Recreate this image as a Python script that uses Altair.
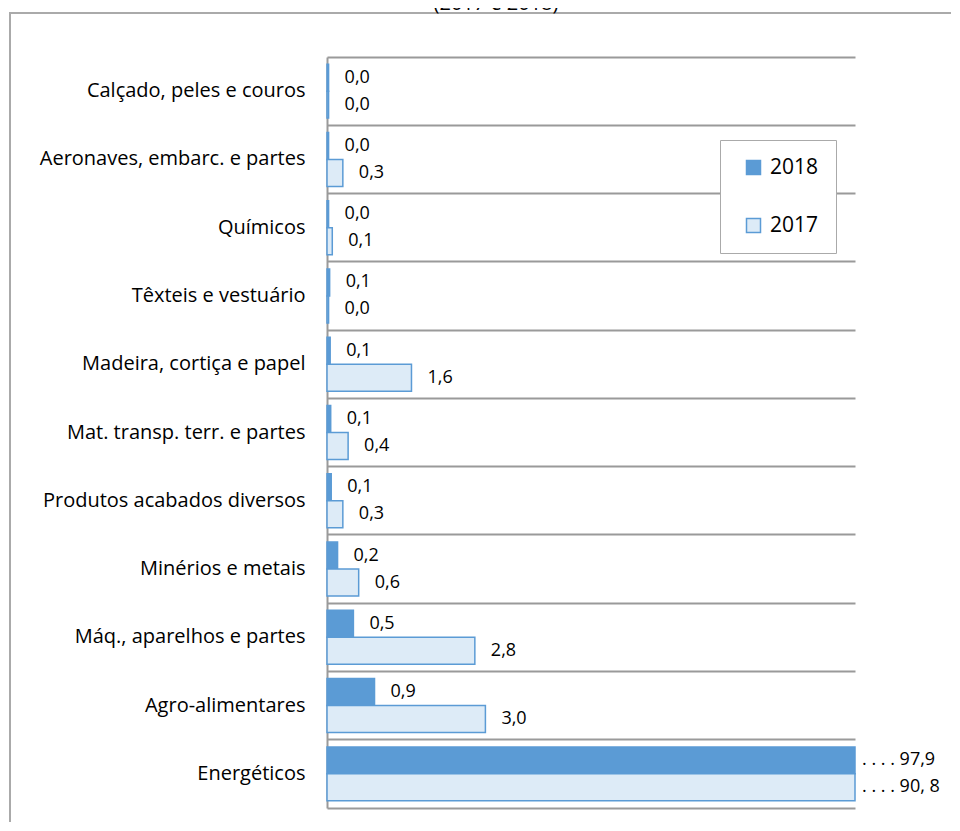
import altair as alt
import pandas as pd

categories = [
    "Calçado, peles e couros",
    "Aeronaves, embarc. e partes",
    "Químicos",
    "Têxteis e vestuário",
    "Madeira, cortiça e papel",
    "Mat. transp. terr. e partes",
    "Produtos acabados diversos",
    "Minérios e metais",
    "Máq., aparelhos e partes",
    "Agro-alimentares",
    "Energéticos",
]
years = ["2018", "2017"]
v2018 = [0.03, 0.03, 0.03, 0.05, 0.06, 0.07, 0.08, 0.2, 0.5, 0.9, 97.9]
v2017 = [0.03, 0.3, 0.1, 0.03, 1.6, 0.4, 0.3, 0.6, 2.8, 3.0, 90.8]
l2018 = ["0,0", "0,0", "0,0", "0,1", "0,1", "0,1", "0,1", "0,2", "0,5", "0,9", ". . . . 97,9"]
l2017 = ["0,0", "0,3", "0,1", "0,0", "1,6", "0,4", "0,3", "0,6", "2,8", "3,0", ". . . . 90, 8"]
title_text = "(2017 e 2018)"

rows = []
for i, c in enumerate(categories):
    rows.append({"category": c, "year": "2018", "value": v2018[i], "label": l2018[i]})
    rows.append({"category": c, "year": "2017", "value": v2017[i], "label": l2017[i]})
df = pd.DataFrame(rows)

FONT = "Open Sans"
GRID = "#9a9a9a"
BLUE = "#5B9BD5"
LIGHT = "#DDEBF7"

x = alt.X(
    "value:Q",
    scale=alt.Scale(domain=[0, 10], clamp=True, nice=False, zero=True),
    axis=alt.Axis(title=None, labels=False, ticks=False, grid=False,
                  domain=True, domainColor=GRID, domainWidth=2),
)
y = alt.Y(
    "category:N",
    sort=categories,
    scale=alt.Scale(paddingInner=0, paddingOuter=0),
    axis=alt.Axis(title=None, ticks=False, grid=True, gridColor=GRID, gridWidth=2,
                  bandPosition=0, domain=True, domainColor=GRID, domainWidth=2,
                  labelFont=FONT, labelFontSize=20, labelColor="#000",
                  labelPadding=22, labelLimit=400),
)
yoff = alt.YOffset("year:N", sort=years,
                   scale=alt.Scale(paddingOuter=0.265, paddingInner=0))

bars = alt.Chart(df).mark_bar(stroke=BLUE, strokeWidth=1.5).encode(
    x=x,
    y=y,
    yOffset=yoff,
    fill=alt.Fill(
        "year:N",
        scale=alt.Scale(domain=years, range=[BLUE, LIGHT]),
        legend=alt.Legend(
            title=None, orient="none", legendX=393, legendY=83, padding=17,
            strokeColor="#aaaaaa", fillColor="white", symbolType="square",
            symbolSize=196, symbolStrokeColor=BLUE, symbolStrokeWidth=1.5,
            symbolOffset=6, labelFont=FONT, labelFontSize=21, labelColor="#000",
            rowPadding=36, labelOffset=6,
        ),
    ),
)

labels_main = alt.Chart(df).transform_filter(
    "datum.category != 'Energéticos'"
).mark_text(align="left", baseline="middle", dx=16, font=FONT, fontSize=18, color="#000").encode(
    x=alt.X("value:Q"), y=alt.Y("category:N", sort=categories), yOffset=alt.YOffset("year:N", sort=years), text="label:N"
)
labels_big = alt.Chart(df).transform_filter(
    "datum.category == 'Energéticos'"
).mark_text(align="left", baseline="middle", dx=7, font=FONT, fontSize=18, color="#000").encode(
    x=alt.X("value:Q"), y=alt.Y("category:N", sort=categories), yOffset=alt.YOffset("year:N", sort=years), text="label:N"
)

one = pd.DataFrame({"a": [0]})
frame = alt.Chart(one).mark_rect(fill="transparent", stroke="#aaaaaa", strokeWidth=2).encode(
    x=alt.value(-317), x2=alt.value(900), y=alt.value(-44), y2=alt.value(900)
)
title = alt.Chart(one).mark_text(
    text=title_text, font=FONT, fontSize=20, align="center", baseline="alphabetic", color="#000"
).encode(x=alt.value(169), y=alt.value(-47))

chart = alt.layer(frame, title, bars, labels_main, labels_big).properties(
    width=528,
    height=751,
    autosize=alt.AutoSizeParams(type="none"),
    padding={"left": 319, "top": 49, "right": 96, "bottom": 14},
).configure_view(stroke=None)

chart.save("out.html", embed_options={"renderer": "svg", "actions": False})
